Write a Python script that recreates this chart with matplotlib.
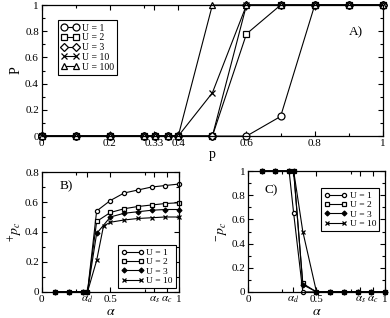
import matplotlib

matplotlib.use("Agg")
import matplotlib.pyplot as plt
from matplotlib.ticker import FixedLocator, MultipleLocator

plt.rcParams["font.family"] = ["Liberation Serif", "DejaVu Serif"]
plt.rcParams["mathtext.fontset"] = "stix"

# --- panel A: P vs p ---
p_vals = [0, 0.1, 0.2, 0.3, 1 / 3, 0.37, 0.4, 0.5, 0.6, 0.7, 0.8, 0.9, 1.0]
P_u1 = [0, 0, 0, 0, 0, 0, 0, 0, 0, 0.15, 1, 1, 1]
P_u2 = [0, 0, 0, 0, 0, 0, 0, 0, 0.78, 1, 1, 1, 1]
P_u3 = [0, 0, 0, 0, 0, 0, 0, 0, 1, 1, 1, 1, 1]
P_u10 = [0, 0, 0, 0, 0, 0, 0, 0.33, 1, 1, 1, 1, 1]
P_u100 = [0, 0, 0, 0, 0, 0, 0, 1, 1, 1, 1, 1, 1]

# --- panel B: p_c^+ vs alpha ---
alpha = [0.1, 0.2, 0.3, 1 / 3, 0.4, 0.5, 0.6, 0.7, 0.8, 0.9, 1.0]
alpha_u10 = [0.1, 0.2, 0.3, 1 / 3, 0.4, 0.45, 0.5, 0.6, 0.7, 0.8, 0.9, 1.0]
pp_u1 = [0, 0, 0, 0, 0.54, 0.61, 0.66, 0.68, 0.70, 0.71, 0.72]
pp_u2 = [0, 0, 0, 0, 0.47, 0.53, 0.555, 0.57, 0.58, 0.59, 0.595]
pp_u3 = [0, 0, 0, 0, 0.39, 0.50, 0.525, 0.535, 0.545, 0.55, 0.55]
pp_u10 = [0, 0, 0, 0, 0.21, 0.44, 0.465, 0.48, 0.49, 0.495, 0.50, 0.50]

# --- panel C: p_c^- vs alpha ---
pm_u1 = [1, 1, 1, 0.65, 0, 0, 0, 0, 0, 0, 0]
pm_u2 = [1, 1, 1, 1, 0.07, 0, 0, 0, 0, 0, 0]
pm_u3 = [1, 1, 1, 1, 0.06, 0, 0, 0, 0, 0, 0]
pm_u10 = [1, 1, 1, 1, 0.5, 0, 0, 0, 0, 0, 0]

alpha_ticks = [0, 0.33, 0.5, 0.82, 0.91, 1]
alpha_labels = ["0", r"$\alpha_d$", "0.5", r"$\alpha_s$", r"$\alpha_c$", "1"]


def style_axes(ax):
    ax.tick_params(which="both", direction="in", top=True, right=True,
                   labelsize=8, pad=2)
    ax.tick_params(which="major", length=3.5, width=0.8)
    ax.tick_params(which="minor", length=2, width=0.8)
    for s in ax.spines.values():
        s.set_linewidth(0.9)


def boxed_legend(ax, **opts):
    leg = ax.legend(numpoints=2, handletextpad=0.3, borderpad=0.35,
                    labelspacing=0.08, fancybox=False, framealpha=1,
                    edgecolor="black", borderaxespad=0, **opts)
    leg.get_frame().set_linewidth(0.8)
    return leg


def fmt(v):
    return "0" if v == 0 else ("1" if v == 1 else f"{v:g}")


fig = plt.figure(figsize=(3.9, 3.18), dpi=100)
axA = fig.add_axes([0.107, 0.572, 0.875, 0.412])
axB = fig.add_axes([0.107, 0.082, 0.352, 0.377])
axC = fig.add_axes([0.636, 0.082, 0.351, 0.380])

kw = dict(color="black", lw=0.8, mfc="white", mec="black", mew=0.9,
          clip_on=False)

axA.plot(p_vals, P_u1, marker="o", ms=5, label="U = 1", **kw)
axA.plot(p_vals, P_u2, marker="s", ms=4.5, label="U = 2", **kw)
axA.plot(p_vals, P_u3, marker="D", ms=4, label="U = 3", **kw)
axA.plot(p_vals, P_u10, marker="x", ms=4.5, label="U = 10", **kw)
axA.plot(p_vals, P_u100, marker="^", ms=5, label="U = 100", **kw)
axA.set_xlim(0, 1)
axA.set_ylim(0, 1)
xa = [0, 0.2, 0.33, 0.4, 0.6, 0.8, 1]
axA.xaxis.set_major_locator(FixedLocator(xa))
axA.set_xticklabels([fmt(v) for v in xa])
axA.xaxis.set_minor_locator(MultipleLocator(0.1))
ya = [0, 0.2, 0.4, 0.6, 0.8, 1]
axA.set_yticks(ya)
axA.set_yticklabels([fmt(v) for v in ya])
axA.yaxis.set_minor_locator(MultipleLocator(0.1))
axA.set_xlabel("p", fontsize=10, labelpad=0)
axA.set_ylabel("P", fontsize=10, labelpad=2)
axA.text(0.9, 0.77, "A)", transform=axA.transAxes, fontsize=9.5)
boxed_legend(axA, loc="upper left", bbox_to_anchor=(0.048, 0.885),
             fontsize=7, handlelength=1.8)
style_axes(axA)

kw2 = dict(kw, ms=3)
axB.plot(alpha, pp_u1, marker="o", label="U = 1", **kw2)
axB.plot(alpha, pp_u2, marker="s", label="U = 2", **dict(kw2, ms=2.7))
axB.plot(alpha, pp_u3, marker="D", label="U = 3", **dict(kw2, ms=2.5, mfc="black"))
axB.plot(alpha_u10, pp_u10, marker="x", label="U = 10", **dict(kw2, ms=2.7))
axB.set_xlim(0, 1)
axB.set_ylim(0, 0.8)
axB.set_yticks([0, 0.2, 0.4, 0.6, 0.8])
axB.set_yticklabels(["0", "0.2", "0.4", "0.6", "0.8"])
axB.yaxis.set_minor_locator(MultipleLocator(0.1))
axB.set_ylabel(r"${}^{+}p_c$", fontsize=10, labelpad=1)
axB.text(0.13, 0.86, "B)", transform=axB.transAxes, fontsize=9.5)
boxed_legend(axB, loc="lower right", bbox_to_anchor=(0.98, 0.03),
             fontsize=6.8, handlelength=2.4)

axC.plot(alpha, pm_u1, marker="o", label="U = 1", **kw2)
axC.plot(alpha, pm_u2, marker="s", label="U = 2", **dict(kw2, ms=2.7))
axC.plot(alpha, pm_u3, marker="D", label="U = 3", **dict(kw2, ms=2.5, mfc="black"))
axC.plot(alpha, pm_u10, marker="x", label="U = 10", **dict(kw2, ms=2.7))
axC.set_xlim(0, 1)
axC.set_ylim(0, 1)
axC.set_yticks([0, 0.2, 0.4, 0.6, 0.8, 1])
axC.set_yticklabels(["0", "0.2", "0.4", "0.6", "0.8", "1"])
axC.yaxis.set_minor_locator(MultipleLocator(0.1))
axC.set_ylabel(r"${}^{-}p_c$", fontsize=10, labelpad=1)
axC.text(0.12, 0.82, "C)", transform=axC.transAxes, fontsize=9.5)
boxed_legend(axC, loc="upper right", bbox_to_anchor=(0.96, 0.86),
             fontsize=6.8, handlelength=2.4)

for ax in (axB, axC):
    ax.xaxis.set_major_locator(FixedLocator(alpha_ticks))
    ax.set_xticklabels(alpha_labels)
    ax.xaxis.set_minor_locator(FixedLocator([0.25, 0.75]))
    ax.set_xlabel(r"$\alpha$", fontsize=10, labelpad=0)
    style_axes(ax)

fig.savefig("out.png", dpi=100)
